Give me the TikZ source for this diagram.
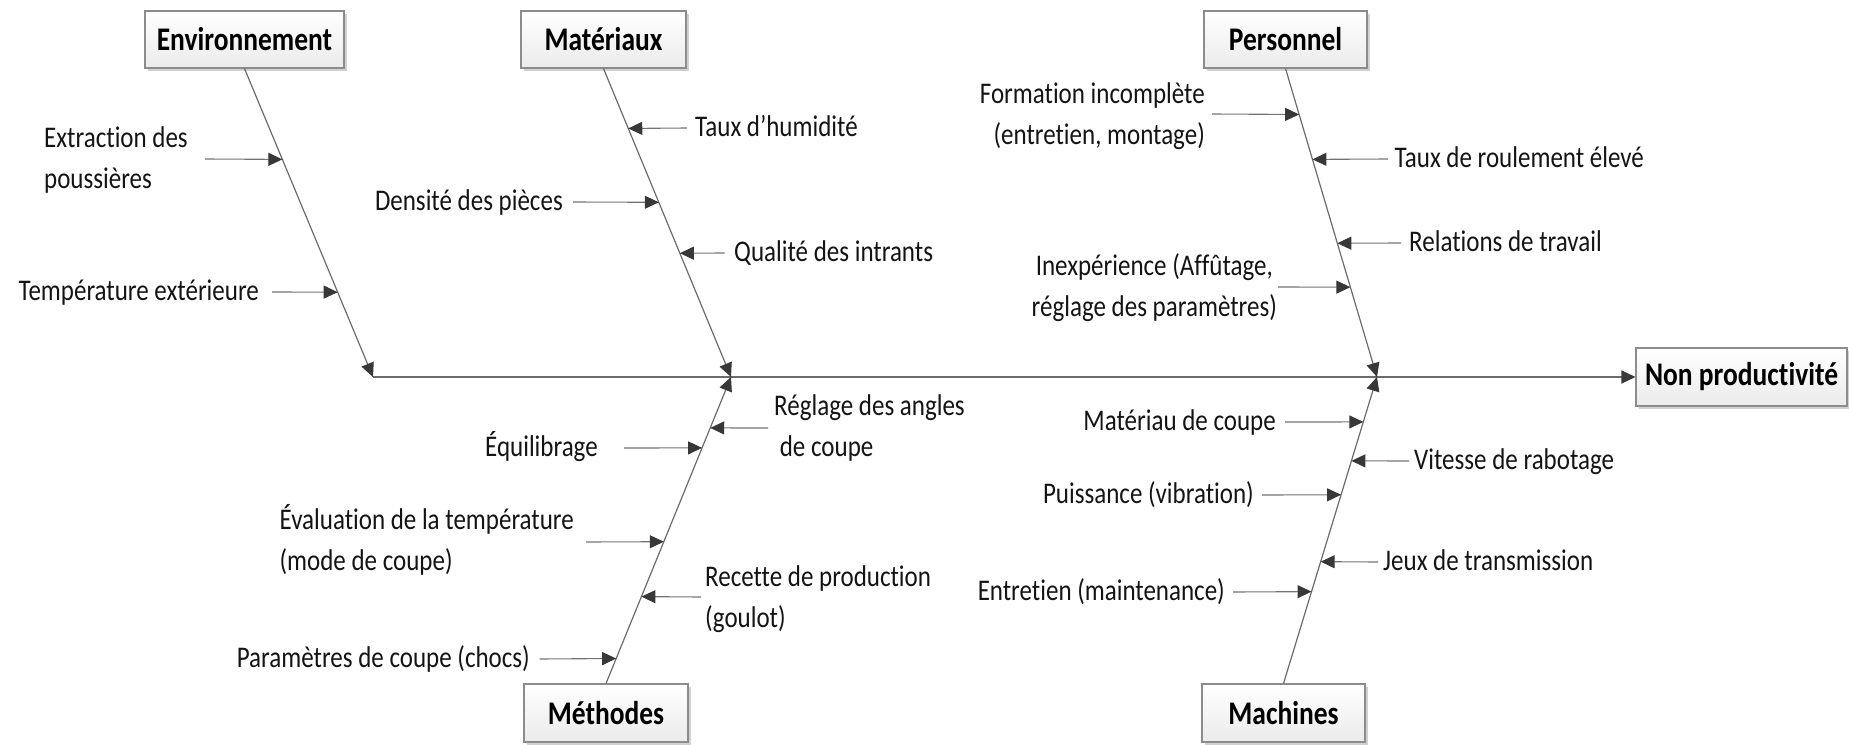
\documentclass[tikz,border=0pt]{standalone}
\usepackage{fontspec}
\setmainfont{Carlito}[FakeStretch=0.8333, Ligatures={NoCommon,NoContextual,NoRequired}]
\usetikzlibrary{arrows.meta,calc,shadows}

\begin{document}
\begin{tikzpicture}[x=1pt,y=-1pt,
  cat/.style={draw=black!45, line width=1.1pt, top color=white, bottom color=black!8,
    drop shadow={shadow xshift=3pt, shadow yshift=-3pt, fill=black!18, opacity=1},
    minimum height=57pt, inner sep=0pt, font=\bfseries\fontsize{33}{40}\selectfont},
  lbl/.style={inner sep=0pt, font=\fontsize{30}{41}\selectfont, text=black!92},
  tip/.style={-{Triangle[length=14pt,width=13pt,color=black!78]}},
  bone/.style={draw=black!58, line width=1.2pt, tip},
  sub/.style={draw=black!55, line width=1.1pt, tip}
]
\useasboundingbox (0,0) rectangle (1849,744);

% category boxes and effect box
\node[cat, minimum width=199pt] (Env)  at (244.5,39.5) {Environnement};
\node[cat, minimum width=165pt] (Mat)  at (603.5,39.5) {Matériaux};
\node[cat, minimum width=163pt] (Pers) at (1285.5,39.5) {Personnel};
\node[cat, minimum width=211pt, minimum height=58pt] (NP) at (1741.5,377) {Non productivité};
\node[cat, minimum width=164pt, minimum height=58pt] (Meth) at (606,713) {Méthodes};
\node[cat, minimum width=163pt, minimum height=58pt] (Mach) at (1283.5,713) {Machines};

% junctions on the spine
\coordinate (J1) at (373,377);
\coordinate (J2) at (731,377);
\coordinate (J3) at (1377,377);

% spine and main bones
\draw[bone] (J1) -- (NP);
\draw[bone] (Env.south) -- (J1);
\draw[bone] (Mat.south) -- (J2);
\draw[bone] (Pers.south) -- (J3);
\draw[bone] (Meth.north) -- (J2);
\draw[bone] (Mach.north) -- (J3);

% points where the causes meet their bone
\coordinate (te1) at ($(Env.south)!{91/309}!(J1)$);
\coordinate (te2) at ($(Env.south)!{224/309}!(J1)$);
\coordinate (tm1) at ($(Mat.south)!{60/309}!(J2)$);
\coordinate (tm2) at ($(Mat.south)!{134/309}!(J2)$);
\coordinate (tm3) at ($(Mat.south)!{185/309}!(J2)$);
\coordinate (tp1) at ($(Pers.south)!{46/309}!(J3)$);
\coordinate (tp2) at ($(Pers.south)!{91/309}!(J3)$);
\coordinate (tp3) at ($(Pers.south)!{175/309}!(J3)$);
\coordinate (tp4) at ($(Pers.south)!{219/309}!(J3)$);
\coordinate (td1) at ($(Meth.north)!{256/307}!(J2)$);
\coordinate (td2) at ($(Meth.north)!{236/307}!(J2)$);
\coordinate (td3) at ($(Meth.north)!{142/307}!(J2)$);
\coordinate (td4) at ($(Meth.north)!{87/307}!(J2)$);
\coordinate (td5) at ($(Meth.north)!{25/307}!(J2)$);
\coordinate (tc1) at ($(Mach.north)!{262/307}!(J3)$);
\coordinate (tc2) at ($(Mach.north)!{223/307}!(J3)$);
\coordinate (tc3) at ($(Mach.north)!{189/307}!(J3)$);
\coordinate (tc4) at ($(Mach.north)!{122/307}!(J3)$);
\coordinate (tc5) at ($(Mach.north)!{92/307}!(J3)$);

% cause labels
\node[lbl, anchor=east, align=left] (le1) at (188,159.5) {\strut Extraction des\\\strut poussières};
\node[lbl, anchor=east] (le2) at (259,292) {\strut Température extérieure};
\node[lbl, anchor=west] (lm1) at (695,128) {\strut Taux d’humidité};
\node[lbl, anchor=east] (lm2) at (563,202) {\strut Densité des pièces};
\node[lbl, anchor=west] (lm3) at (734,253) {\strut Qualité des intrants};
\node[lbl, anchor=east, align=right] (lp1) at (1205,116) {\strut Formation incomplète\\\strut (entretien, montage)};
\node[lbl, anchor=west] (lp2) at (1394.5,159) {\strut Taux de roulement élevé};
\node[lbl, anchor=west] (lp3) at (1409,243) {\strut Relations de travail};
\node[lbl, anchor=east, align=center] (lp4) at (1277,287.5) {\strut Inexpérience (Affûtage,\\\strut réglage des paramètres)};
\node[lbl, anchor=west, align=left] (ld1) at (774,427.5) {\strut Réglage des angles\\\strut\ de coupe};
\node[lbl, anchor=east] (ld2) at (598,448) {\strut Équilibrage};
\node[lbl, anchor=east, align=left] (ld3) at (574,542) {\strut Évaluation de la température\\\strut (mode de coupe)};
\node[lbl, anchor=west, align=left] (ld4) at (705,598.5) {\strut Recette de production\\\strut (goulot)};
\node[lbl, anchor=east] (ld5) at (530,659) {\strut Paramètres de coupe (chocs)};
\node[lbl, anchor=east] (lc1) at (1276,422) {\strut Matériau de coupe};
\node[lbl, anchor=west] (lc2) at (1414,461) {\strut Vitesse de rabotage};
\node[lbl, anchor=east] (lc3) at (1254,495) {\strut Puissance (vibration)};
\node[lbl, anchor=west] (lc4) at (1383,562) {\strut Jeux de transmission};
\node[lbl, anchor=east] (lc5) at (1225,592) {\strut Entretien (maintenance)};

% free ends of the cause arrows
\coordinate (se1) at (205,159);
\coordinate (se2) at (272,292);
\coordinate (sm1) at (687,128);
\coordinate (sm2) at (573,202);
\coordinate (sm3) at (724.5,253);
\coordinate (sp1) at (1212,114);
\coordinate (sp2) at (1388,159);
\coordinate (sp3) at (1401,243);
\coordinate (sp4) at (1278,287);
\coordinate (sd1) at (768,428);
\coordinate (sd2) at (624,448);
\coordinate (sd3) at (586,542);
\coordinate (sd4) at (701,597);
\coordinate (sd5) at (539.5,659);
\coordinate (sc1) at (1285,422);
\coordinate (sc2) at (1409,461);
\coordinate (sc3) at (1262,495);
\coordinate (sc4) at (1378,562);
\coordinate (sc5) at (1233,592);

% cause arrows
\foreach \a in {e1,e2,m1,m2,m3,p1,p2,p3,p4,d1,d2,d3,d4,d5,c1,c2,c3,c4,c5}
  \draw[sub] (s\a) -- (t\a);

\end{tikzpicture}
\end{document}
